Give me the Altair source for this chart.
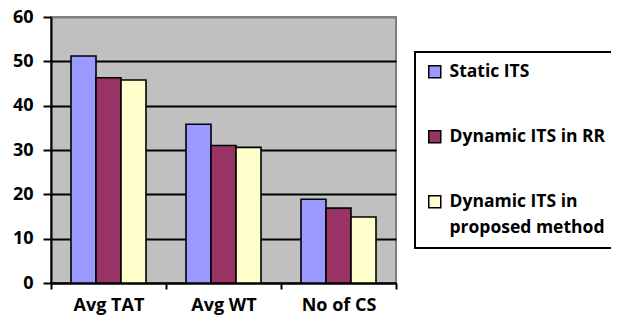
import altair as alt
import pandas as pd

categories = ["Avg TAT", "Avg WT", "No of CS"]
series = ["Static ITS", "Dynamic ITS in RR", "Dynamic ITS in proposed method"]
static_its = [51.2, 35.8, 18.9]
dynamic_rr = [46.3, 31.0, 16.9]
dynamic_proposed = [45.8, 30.6, 14.9]
colors = ["#9999FF", "#993366", "#FFFFCC"]
y_ticks = [0, 10, 20, 30, 40, 50, 60]

rows = []
for s, vals in zip(series, [static_its, dynamic_rr, dynamic_proposed]):
    for c, v in zip(categories, vals):
        rows.append({"category": c, "series": s, "value": v})
df = pd.DataFrame(rows)

FONT = "Open Sans"

chart = alt.Chart(df).mark_bar(stroke="black", strokeWidth=1.6).encode(
    x=alt.X("category:N", sort=categories,
            scale=alt.Scale(paddingInner=0, paddingOuter=0),
            axis=alt.Axis(title=None, labelAngle=0, tickBand="extent",
                          tickSize=6, tickColor="black", tickWidth=2,
                          domainColor="black", domainWidth=2,
                          labelPadding=7, labelFontSize=18, labelFont=FONT,
                          labelFontWeight="bold", labelColor="black")),
    xOffset=alt.XOffset("series:N", sort=series,
                        scale=alt.Scale(paddingInner=0, paddingOuter=0.8)),
    y=alt.Y("value:Q", scale=alt.Scale(domain=[0, 60], nice=False),
            axis=alt.Axis(title=None, values=y_ticks, tickSize=8,
                          tickColor="black", tickWidth=2,
                          domainColor="black", domainWidth=2,
                          grid=True, gridWidth=2,
                          gridColor={"condition": {"test": "datum.value >= 60", "value": "#808080"},
                                     "value": "black"},
                          labelPadding=10, labelFontSize=18, labelFont=FONT,
                          labelFontWeight="bold", labelColor="black")),
    color=alt.Color("series:N", sort=series,
                    scale=alt.Scale(domain=series, range=colors),
                    legend=alt.Legend(
                        title=None, orient="none", legendX=364, legendY=35,
                        labelExpr="datum.label == 'Dynamic ITS in proposed method' ? ['Dynamic ITS in', 'proposed method'] : datum.label",
                        symbolType="square", symbolSize=144,
                        symbolStrokeColor="black", symbolStrokeWidth=1.5,
                        labelFontSize=17.5, labelFont=FONT, labelFontWeight="bold",
                        labelColor="black", labelOffset=6, labelLimit=300,
                        rowPadding=46, padding=11,
                        strokeColor="black")),
).properties(
    width=345, height=266,
    autosize=alt.AutoSizeParams(type="none"),
    padding={"left": 43, "top": 9, "right": 215, "bottom": 38},
).configure(
    style={"guide-label": {"lineHeight": 26}},
).configure_view(
    fill="#C0C0C0", stroke="#808080", strokeWidth=2,
).configure_legend(
    strokeWidth=2,
)

chart.save("out.html", embed_options={"renderer": "svg", "actions": False})
